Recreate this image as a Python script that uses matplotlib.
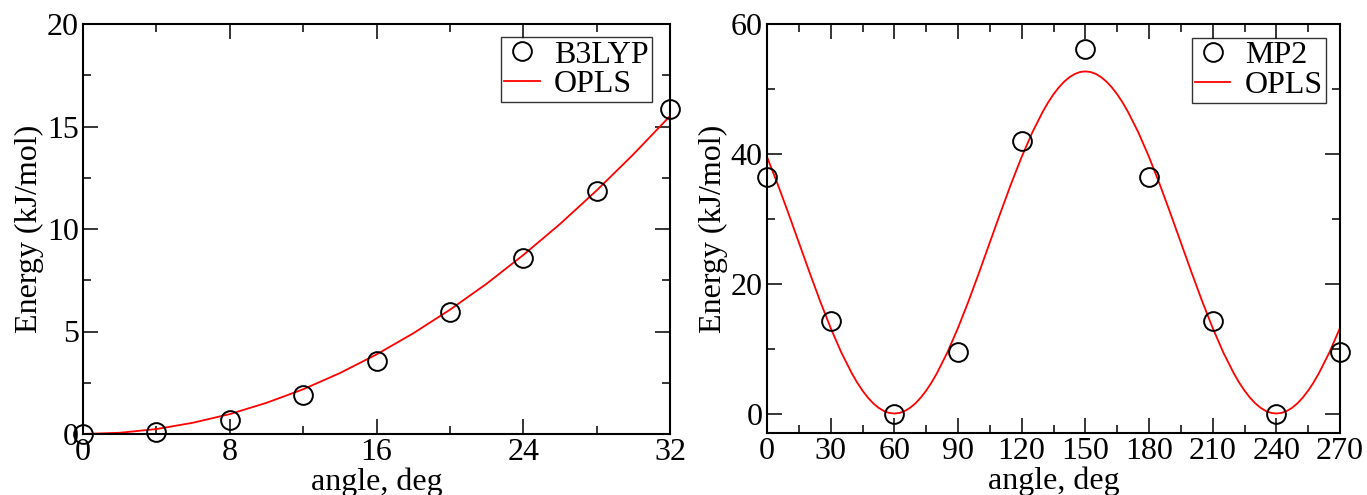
import numpy as np
import matplotlib
matplotlib.use('Agg')
import matplotlib.pyplot as plt
from matplotlib.ticker import MultipleLocator

plt.rcParams['font.family'] = ['Liberation Serif', 'DejaVu Serif']

# left panel: B3LYP scan vs OPLS fit
b3lyp_angle = [0, 4, 8, 12, 16, 20, 24, 28, 32]
b3lyp_energy = [0.0, 0.11, 0.68, 1.9, 3.55, 5.94, 8.58, 11.84, 15.83]
opls_left_angle = [0, 2, 4, 6, 8, 10, 12, 14, 16, 18, 20, 22, 24, 26, 28, 30, 32]
opls_left_energy = [0.0, 0.06, 0.24, 0.55, 0.97, 1.52, 2.18, 2.97, 3.88, 4.91,
                    6.06, 7.33, 8.73, 10.24, 11.88, 13.64, 15.51]

# right panel: MP2 scan vs OPLS fit
mp2_angle = [0, 30, 60, 90, 120, 150, 180, 210, 240, 270]
mp2_energy = [36.5, 14.2, 0.0, 9.5, 42.0, 56.1, 36.5, 14.2, 0.0, 9.5]
opls_right_angle = [0, 5, 10, 15, 20, 25, 30, 35, 40, 42.5, 45, 47.5, 50, 52.5, 55, 57.5,
                    60, 62.5, 65, 67.5, 70, 72.5, 75, 77.5, 80, 85, 90, 95, 100, 105,
                    110, 115, 120, 125, 130, 132.5, 135, 137.5, 140, 142.5, 145, 147.5,
                    150, 152.5, 155, 157.5, 160, 162.5, 165, 167.5, 170, 175, 180, 185,
                    190, 195, 200, 205, 210, 215, 220, 222.5, 225, 227.5, 230, 232.5,
                    235, 237.5, 240, 242.5, 245, 247.5, 250, 252.5, 255, 257.5, 260,
                    265, 270]
opls_right_energy = [39.53, 35.36, 30.92, 26.35, 21.78, 17.34, 13.18, 9.41, 6.17, 4.76,
                     3.53, 2.47, 1.59, 0.90, 0.40, 0.10,
                     0.0, 0.10, 0.40, 0.90, 1.59, 2.47, 3.53, 4.76, 6.17, 9.41, 13.18,
                     17.34, 21.78, 26.35,
                     30.92, 35.36, 39.53, 43.29, 46.53, 47.94, 49.17, 50.23, 51.11, 51.80,
                     52.30, 52.60,
                     52.70, 52.60, 52.30, 51.80, 51.11, 50.23, 49.17, 47.94, 46.53, 43.29,
                     39.53, 35.36,
                     30.92, 26.35, 21.78, 17.34, 13.18, 9.41, 6.17, 4.76, 3.53, 2.47,
                     1.59, 0.90,
                     0.40, 0.10, 0.0, 0.10, 0.40, 0.90, 1.59, 2.47, 3.53, 4.76, 6.17,
                     9.41, 13.18]

FS = 23


def style_axes(ax, xmaj, xmin, ymaj, ymin):
    ax.xaxis.set_major_locator(MultipleLocator(xmaj))
    ax.xaxis.set_minor_locator(MultipleLocator(xmin))
    ax.yaxis.set_major_locator(MultipleLocator(ymaj))
    ax.yaxis.set_minor_locator(MultipleLocator(ymin))
    ax.tick_params(which='both', direction='in', top=True, right=True,
                   labelsize=FS, width=1.1, pad=3)
    ax.tick_params(which='major', length=11)
    ax.tick_params(which='minor', length=6)
    for s in ax.spines.values():
        s.set_linewidth(1.5)
    ax.set_xlabel('angle, deg', fontsize=FS, labelpad=0)
    ax.set_ylabel('Energy (kJ/mol)', fontsize=FS, labelpad=2)


def add_plot(ax, xs, ys, xl, yl, label, anchor):
    ax.plot(xs, ys, 'o', mfc='none', mec='black', ms=13.5, mew=1.4,
            label=label, clip_on=False, zorder=3)
    ax.plot(xl, yl, '-', color='red', lw=1.3, label='OPLS', zorder=2)
    leg = ax.legend(loc='upper right', bbox_to_anchor=anchor, fontsize=FS,
                    frameon=True, fancybox=False, borderpad=0.1,
                    handlelength=1.1, handletextpad=0.45,
                    labelspacing=0.0, borderaxespad=0.0)
    leg.get_frame().set_edgecolor('black')
    leg.get_frame().set_linewidth(1.0)


fig = plt.figure(figsize=(13.67, 4.95), dpi=100)
ax1 = fig.add_axes([83 / 1367, 61 / 495, 587 / 1367, 410 / 495])
ax2 = fig.add_axes([767 / 1367, 62 / 495, 573 / 1367, 409 / 495])

add_plot(ax1, b3lyp_angle, b3lyp_energy, opls_left_angle, opls_left_energy,
         'B3LYP', (0.969, 0.968))
ax1.set_xlim(0, 32)
ax1.set_ylim(0, 20)
style_axes(ax1, 8, 4, 5, 2.5)

add_plot(ax2, mp2_angle, mp2_energy, opls_right_angle, opls_right_energy,
         'MP2', (0.9756, 0.966))
ax2.set_xlim(0, 270)
ax2.set_ylim(-3, 60)
style_axes(ax2, 30, 15, 20, 10)

fig.savefig('out.png', dpi=100)
